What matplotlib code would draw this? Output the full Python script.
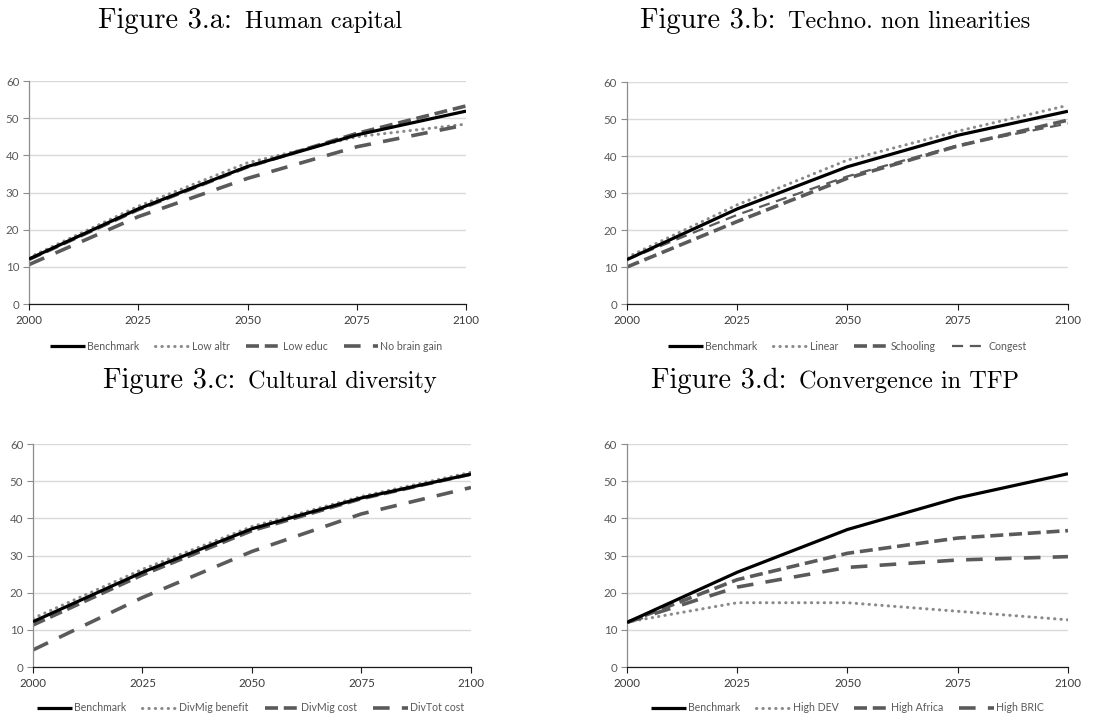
import matplotlib
matplotlib.use("Agg")

import matplotlib.pyplot as plt
import numpy as np


YEARS = [2000, 2025, 2050, 2075, 2100]

# Panel a: human capital
A_LABELS = ["Benchmark", "Low altr", "Low educ", "No brain gain"]
A_BENCH = [12.1, 25.6, 37.0, 45.5, 51.9]
A_LOW_ALTR = [12.5, 26.3, 38.0, 45.0, 48.4]
A_LOW_EDUC = [12.0, 25.4, 36.9, 45.9, 53.3]
A_NO_BRAIN = [10.6, 23.5, 33.8, 42.3, 48.2]

# Panel b: technological non linearities
B_LABELS = ["Benchmark", "Linear", "Schooling", "Congest"]
B_BENCH = [12.0, 25.7, 37.1, 45.6, 52.1]
B_LINEAR = [12.6, 26.8, 38.9, 46.7, 53.7]
B_SCHOOLING = [10.0, 22.3, 34.0, 42.7, 49.7]
B_CONGEST = [12.0, 24.1, 34.5, 42.9, 48.8]

# Panel c: cultural diversity
C_LABELS = ["Benchmark", "DivMig benefit", "DivMig cost", "DivTot cost"]
C_BENCH = [12.2, 25.5, 37.2, 45.5, 51.9]
C_MIG_BENEFIT = [13.1, 26.3, 37.8, 45.9, 52.4]
C_MIG_COST = [11.3, 24.8, 36.7, 45.3, 51.9]
C_TOT_COST = [4.6, 18.7, 31.1, 41.2, 48.3]

# Panel d: convergence in TFP
D_LABELS = ["Benchmark", "High DEV", "High Africa", "High BRIC"]
D_BENCH = [12.0, 25.5, 37.0, 45.5, 52.0]
D_HIGH_DEV = [12.1, 17.3, 17.3, 15.0, 12.7]
D_HIGH_AFRICA = [12.0, 23.5, 30.6, 34.7, 36.7]
D_HIGH_BRIC = [12.0, 21.5, 26.8, 28.8, 29.7]

TITLES = [
    ("Figure 3.a:", "Human capital"),
    ("Figure 3.b:", "Techno. non linearities"),
    ("Figure 3.c:", "Cultural diversity"),
    ("Figure 3.d:", "Convergence in TFP"),
]

TICK_COLOR = "#595959"
GRID_COLOR = "#d9d9d9"
DARK = "#5a5a5a"
DOT = "#8a8a8a"

SOLID = dict(color="black", lw=2.3, ls="-", solid_capstyle="butt")
DOTTED = dict(color=DOT, lw=2.2, ls=(0, (0.1, 2.0)), dash_capstyle="round")
DASHED = dict(color=DARK, lw=2.6, ls=(0, (3.6, 1.6)), dash_capstyle="butt")
LONG_DASH = dict(color=DARK, lw=2.6, ls=(0, (4.6, 3.4)), dash_capstyle="butt")
THIN_DASH = dict(color=DARK, lw=1.6, ls=(0, (5.0, 3.0)), dash_capstyle="butt")

PANELS = [
    dict(rect=[0.026, 0.5748, 0.392, 0.3119], labels=A_LABELS,
         series=[A_BENCH, A_LOW_ALTR, A_LOW_EDUC, A_NO_BRAIN],
         styles=[SOLID, DOTTED, DASHED, LONG_DASH],
         title_xy=(0.224, 0.971), legend_xy=(0.221, 0.516)),
    dict(rect=[0.5623, 0.5748, 0.3955, 0.3105], labels=B_LABELS,
         series=[B_BENCH, B_LINEAR, B_SCHOOLING, B_CONGEST],
         styles=[SOLID, DOTTED, DASHED, THIN_DASH],
         title_xy=(0.749, 0.971), legend_xy=(0.760, 0.516)),
    dict(rect=[0.0296, 0.0671, 0.3928, 0.3119], labels=C_LABELS,
         series=[C_BENCH, C_MIG_BENEFIT, C_MIG_COST, C_TOT_COST],
         styles=[SOLID, DOTTED, DASHED, LONG_DASH],
         title_xy=(0.242, 0.468), legend_xy=(0.225, 0.010)),
    dict(rect=[0.5623, 0.0671, 0.3955, 0.3119], labels=D_LABELS,
         series=[D_BENCH, D_HIGH_DEV, D_HIGH_AFRICA, D_HIGH_BRIC],
         styles=[SOLID, DOTTED, DASHED, LONG_DASH],
         title_xy=(0.749, 0.468), legend_xy=(0.760, 0.010)),
]

plt.rcParams["font.family"] = ["Lato", "DejaVu Sans"]

fig = plt.figure(figsize=(11.15, 7.15), dpi=100)


def style_axis(ax):
    ax.set_xlim(2000, 2100)
    ax.set_ylim(0, 60)
    ax.set_xticks(np.arange(2000, 2101, 25))
    ax.set_yticks(np.arange(0, 61, 10))
    ax.grid(axis="y", color=GRID_COLOR, lw=1.0)
    ax.set_axisbelow(True)
    for side in ("top", "right"):
        ax.spines[side].set_visible(False)
    ax.spines["left"].set_color("#8c8c8c")
    ax.spines["bottom"].set_color("#1a1a1a")
    ax.spines["left"].set_linewidth(0.9)
    ax.spines["bottom"].set_linewidth(0.9)
    ax.tick_params(axis="y", length=4, width=0.8, color="#8c8c8c",
                   labelsize=8.3, labelcolor=TICK_COLOR, pad=3)
    ax.tick_params(axis="x", length=4, width=0.8, color="#1a1a1a",
                   labelsize=8.3, labelcolor="#3a3a3a", pad=4)


title_pairs = []
for panel, (head, tail) in zip(PANELS, TITLES):
    ax = fig.add_axes(panel["rect"])
    handles = []
    for values, style, label in zip(panel["series"], panel["styles"], panel["labels"]):
        (line,) = ax.plot(YEARS, values, label=label, **style)
        handles.append(line)
    # Benchmark drawn on top of the alternatives
    handles[0].set_zorder(5)
    style_axis(ax)
    fig.legend(handles=handles, loc="center", bbox_to_anchor=panel["legend_xy"],
               ncol=4, frameon=False, fontsize=7.6, labelcolor=TICK_COLOR,
               handlelength=3.3, handletextpad=0.2, columnspacing=1.5)
    t1 = fig.text(0, panel["title_xy"][1], head, family="cmr10", fontsize=20.5,
                  va="center", ha="left")
    t2 = fig.text(0, panel["title_xy"][1], tail, family="cmr10", fontsize=17.5,
                  va="center", ha="left")
    title_pairs.append((t1, t2, panel["title_xy"][0]))

# centre each two-size title on its panel
fig.canvas.draw()
renderer = fig.canvas.get_renderer()
fig_w = fig.bbox.width
gap = 13
for t1, t2, cx in title_pairs:
    w1 = t1.get_window_extent(renderer).width
    w2 = t2.get_window_extent(renderer).width
    left = cx * fig_w - (w1 + gap + w2) / 2
    t1.set_x(left / fig_w)
    t2.set_x((left + w1 + gap) / fig_w)
    t2.set_y(t1.get_position()[1] - 0.002)

fig.savefig("out.png", dpi=100)
